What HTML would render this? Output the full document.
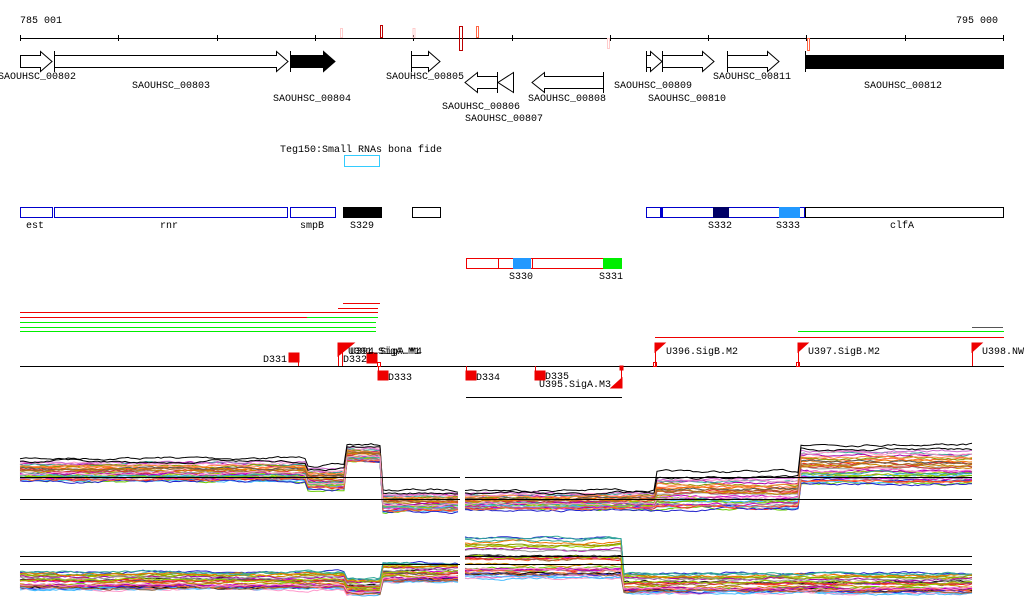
<!DOCTYPE html>
<html><head><meta charset="utf-8"><style>body{margin:0;background:#fff}svg{display:block}text{font-family:"Liberation Mono",monospace;font-size:10px;fill:#000}</style></head><body>
<svg id="s" width="1024" height="611" xmlns="http://www.w3.org/2000/svg">
<text x="20" y="23">785 001</text><text x="956" y="23">795 000</text>
<rect x="20" y="38" width="984" height="1" fill="#000"/>
<g fill="#000"><rect x="20" y="35" width="1" height="6"/><rect x="118" y="35" width="1" height="6"/><rect x="217" y="35" width="1" height="6"/><rect x="315" y="35" width="1" height="6"/><rect x="413" y="35" width="1" height="6"/><rect x="512" y="35" width="1" height="6"/><rect x="610" y="35" width="1" height="6"/><rect x="708" y="35" width="1" height="6"/><rect x="806" y="35" width="1" height="6"/><rect x="905" y="35" width="1" height="6"/><rect x="1003" y="35" width="1" height="6"/></g>
<g fill="none"><rect x="340.5" y="28.5" width="2" height="9" stroke="#fcc"/><rect x="380.5" y="25.5" width="2" height="12" stroke="#b00"/><rect x="413" y="28.5" width="2" height="9" stroke="#fcc"/><rect x="459.5" y="26.5" width="3" height="24" stroke="#b00"/><rect x="476.5" y="26.5" width="2" height="11" stroke="#f64"/><rect x="607.5" y="38.5" width="2" height="10" stroke="#fcc"/><rect x="807.5" y="38.5" width="2" height="12" stroke="#f64"/></g>
<g stroke="#000" fill="#fff">
<path d="M20.5 55.5H40.5V51.5L52 61.5L40.5 71.5V67.5H20.5Z"/>
<path d="M54.5 55.5H276.5V51.5L288 61.5L276.5 71.5V67.5H54.5Z"/><line x1="54.5" y1="51" x2="54.5" y2="72"/>
<path d="M290.5 55.5H323.5V51.5L335 61.5L323.5 71.5V67.5H290.5Z" fill="#000"/><line x1="290.5" y1="51" x2="290.5" y2="72"/>
<path d="M411.5 55.5H428.5V51.5L440 61.5L428.5 71.5V67.5H411.5Z"/><line x1="411.5" y1="51" x2="411.5" y2="72"/>
<path d="M497.5 76.5H477.5V72.5L465 82.5L477.5 92.5V88.5H497.5Z"/><line x1="497.5" y1="72" x2="497.5" y2="93"/>
<path d="M513.5 72.5L498 82.5L513.5 92.5Z"/>
<path d="M603.5 76.5H544.5V72.5L532 82.5L544.5 92.5V88.5H603.5Z"/><line x1="603.5" y1="72" x2="603.5" y2="93"/>
<path d="M646.5 55.5H650.5V51.5L662 61.5L650.5 71.5V67.5H646.5Z"/><line x1="646.5" y1="51" x2="646.5" y2="72"/>
<path d="M662.5 55.5H702.5V51.5L714 61.5L702.5 71.5V67.5H662.5Z"/><line x1="662.5" y1="51" x2="662.5" y2="72"/>
<path d="M727.5 55.5H767.5V51.5L779 61.5L767.5 71.5V67.5H727.5Z"/><line x1="727.5" y1="51" x2="727.5" y2="72"/>
<rect x="805.5" y="55.5" width="198" height="13" fill="#000"/><line x1="805.5" y1="51" x2="805.5" y2="72"/>
</g>
<text x="-2" y="79">SAOUHSC_00802</text><text x="132" y="88">SAOUHSC_00803</text><text x="273" y="101">SAOUHSC_00804</text><text x="386" y="79">SAOUHSC_00805</text><text x="442" y="109">SAOUHSC_00806</text><text x="465" y="121">SAOUHSC_00807</text><text x="528" y="101">SAOUHSC_00808</text><text x="614" y="88">SAOUHSC_00809</text><text x="648" y="101">SAOUHSC_00810</text><text x="713" y="79">SAOUHSC_00811</text><text x="864" y="88">SAOUHSC_00812</text>
<text x="280" y="152">Teg150:Small RNAs bona fide</text>
<rect x="344.5" y="155.5" width="35" height="11" fill="none" stroke="#3cf"/>
<g fill="none" stroke="#00c"><rect x="20.5" y="207.5" width="32" height="10"/><rect x="54.5" y="207.5" width="233" height="10"/><rect x="290.5" y="207.5" width="45" height="10"/><rect x="646.5" y="207.5" width="16" height="10"/><rect x="662.5" y="207.5" width="142" height="10"/></g>
<rect x="343" y="207" width="39" height="11" fill="#000"/><rect x="412.5" y="207.5" width="28" height="10" fill="none" stroke="#000"/>
<rect x="660" y="207" width="3" height="11" fill="#00c"/><rect x="713" y="207" width="16" height="11" fill="#006"/><rect x="779" y="207" width="21" height="11" fill="#29f"/>
<rect x="805.5" y="207.5" width="198" height="10" fill="none" stroke="#000"/>
<text x="26" y="228">est</text><text x="160" y="228">rnr</text><text x="300" y="228">smpB</text><text x="350" y="228">S329</text><text x="708" y="228">S332</text><text x="776" y="228">S333</text><text x="890" y="228">clfA</text>
<g fill="none" stroke="#e00"><rect x="466.5" y="258.5" width="32" height="10"/><rect x="498.5" y="258.5" width="34" height="10"/><rect x="532.5" y="258.5" width="71" height="10"/></g>
<rect x="513" y="258" width="18" height="11" fill="#29f"/><rect x="603" y="258" width="19" height="11" fill="#0e0"/>
<text x="509" y="279">S330</text><text x="599" y="279">S331</text>
<g>
<rect x="343" y="303" width="37" height="1" fill="#e00"/><rect x="338" y="308" width="40" height="1" fill="#e00"/><rect x="20" y="312" width="358" height="1" fill="#e00"/><rect x="20" y="317" width="287" height="1" fill="#e00"/><rect x="307" y="317" width="71" height="1" fill="#0e0"/><rect x="20" y="322" width="356" height="1" fill="#0e0"/><rect x="20" y="327" width="356" height="1" fill="#0e0"/><rect x="20" y="331" width="356" height="1" fill="#0e0"/>
<rect x="972" y="327" width="31" height="1" fill="#555"/><rect x="798" y="331" width="206" height="1" fill="#0e0"/><rect x="655" y="337" width="349" height="1" fill="#e00"/>
<rect x="466" y="397" width="156" height="1" fill="#000"/></g>
<rect x="20" y="366" width="984" height="1" fill="#000"/>
<g fill="#e00" stroke="#e00">
<rect x="289" y="353" width="10" height="9"/><line x1="298.5" y1="353" x2="298.5" y2="366"/>
<path d="M338 343L354 343L338 356Z"/><line x1="338.5" y1="343" x2="338.5" y2="366"/><line x1="342.5" y1="352" x2="342.5" y2="366"/>
<rect x="367" y="353" width="10" height="10"/><rect x="377.5" y="362.5" width="3" height="4" fill="none"/><line x1="378.5" y1="366" x2="378.5" y2="372"/>
<rect x="378" y="371" width="10" height="9"/><rect x="466" y="371" width="10" height="9"/><line x1="466.5" y1="366" x2="466.5" y2="372"/>
<rect x="535" y="371" width="10" height="9"/><line x1="535.5" y1="366" x2="535.5" y2="372"/>
<path d="M622 378L622 388L611 388Z"/><line x1="621.5" y1="366" x2="621.5" y2="388"/><rect x="620" y="366" width="3" height="4"/>
<path d="M655 343L665 343L655 352Z"/><line x1="655.5" y1="343" x2="655.5" y2="366"/><rect x="653.5" y="362.5" width="3" height="4" fill="none"/>
<path d="M798 343L808 343L798 352Z"/><line x1="798.5" y1="343" x2="798.5" y2="366"/><rect x="796.5" y="362.5" width="3" height="4" fill="none"/>
<path d="M972 343L982 343L972 352Z"/><line x1="972.5" y1="343" x2="972.5" y2="366"/>
</g>
<text x="263" y="362">D331</text><text x="343" y="362">D332</text><text x="350" y="354">U394.SigA.M4</text><text x="348" y="354">U391.SigA.M1</text>
<text x="388" y="380">D333</text><text x="476" y="380">D334</text><text x="545" y="379">D335</text><text x="539" y="387">U395.SigA.M3</text>
<text x="666" y="354">U396.SigB.M2</text><text x="808" y="354">U397.SigB.M2</text><text x="982" y="354">U398.NW</text>
<g id="ch"></g>
<g fill="#000">
<rect x="20" y="477" width="440" height="1"/><rect x="465" y="477" width="507" height="1"/><rect x="20" y="499" width="440" height="1"/><rect x="465" y="499" width="507" height="1"/>
<rect x="20" y="556" width="440" height="1"/><rect x="465" y="556" width="507" height="1"/><rect x="20" y="564" width="440" height="1"/><rect x="465" y="564" width="507" height="1"/>
</g>
</svg>
<script>
var seed=7;function r(){seed=(seed*16807)%2147483647;return seed/2147483647;}
var cols=["#000","#e22","#6c0","#22c","#c0c","#4bf","#c80","#999","#f63","#9c0","#a0a","#963","#3a9","#f9c","#c33","#890","#e70","#555","#c6c","#f84"];
var g=document.getElementById('ch'),h='';
// regions: [x0,x1,top,bot]
var R1=[[20,305,458,482],[305,345,465,490],[345,380,445,462],[380,460,490,512],[465,655,490,510],[655,800,472,510],[800,972,444,485]];
var R2=[[20,345,570,590],[345,380,577,595],[380,460,561,583],[465,622,533,580],[622,972,571,594]];
function lv(R,x,u){for(var i=0;i<R.length;i++){if(x<=R[i][1]||i==R.length-1)return R[i][2]+u*(R[i][3]-R[i][2]);}}
function draw(R){for(var i=0;i<34;i++){var u=Math.pow(r(),0.8),c=cols[i%cols.length];var segs=[[20,460],[465,972]];for(var s=0;s<2;s++){var d='',n=0,w=0;for(var x=segs[s][0];x<=segs[s][1];x+=3){w=w*0.85+(r()-0.5)*1.8;var y=lv(R,x,u)+w;d+=(n++?'L':'M')+x+' '+y.toFixed(1);}h+='<path d="'+d+'" fill="none" stroke="'+c+'" stroke-width="1"/>';}}}
draw(R1);draw(R2);g.innerHTML=h;
</script>
</body></html>
